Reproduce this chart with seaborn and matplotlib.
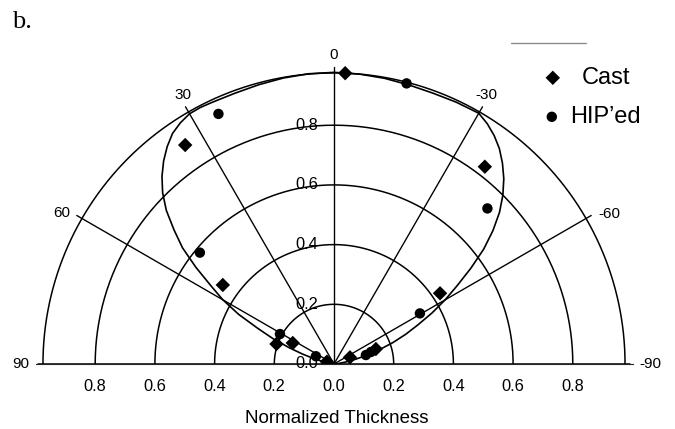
import numpy as np
import matplotlib
matplotlib.use("Agg")
import matplotlib.pyplot as plt
import seaborn as sns
from matplotlib.lines import Line2D

# Measured normalized thickness vs. angle (degrees, 0 = normal, + to the left)
cast_angle = [-2.2, 34.2, 54.6, 63.0, 70.8, 72.0, -67.3, -70.3, -56.3, -37.4]
cast_thick = [0.975, 0.887, 0.457, 0.155, 0.204, 0.025, 0.058, 0.149, 0.427, 0.832]

hip_angle = [-14.5, 24.8, 50.3, 61.0, 66.8, -74.3, -72.0, -59.5, -44.6]
hip_thick = [0.971, 0.923, 0.584, 0.207, 0.066, 0.111, 0.130, 0.334, 0.732]

# Fitted distribution curve
fit_angle = [-90, -85, -80, -77.5, -75, -72.5, -70, -67.5, -65, -62.5, -60,
             -57.5, -55, -52.5, -50, -47.5, -45, -42.5, -40, -37.5, -35,
             -32.5, -30, -25, -20, -15, -10, -5, 0, 5, 10, 15, 20, 25, 27.5,
             30, 32.5, 35, 37.5, 40, 42.5, 45, 47.5, 50, 52.5, 55, 57.5, 60,
             62.5, 65, 67.5, 70, 72.5, 75, 77.5, 80, 85, 90]
fit_thick = [0.0, 0.012, 0.045, 0.075, 0.115, 0.16, 0.21, 0.26, 0.31, 0.37,
             0.43, 0.49, 0.56, 0.632, 0.695, 0.752, 0.80, 0.842, 0.878, 0.91,
             0.935, 0.955, 0.970, 0.968, 0.966, 0.968, 0.972, 0.975, 0.977,
             0.976, 0.973, 0.969, 0.966, 0.967, 0.969, 0.968, 0.958, 0.943,
             0.918, 0.888, 0.853, 0.812, 0.762, 0.70, 0.64, 0.565, 0.49,
             0.43, 0.36, 0.28, 0.22, 0.16, 0.11, 0.07, 0.04, 0.02, 0.005, 0.0]

ring_levels = [0.2, 0.4, 0.6, 0.8]
ring_labels = ["0.2", "0.4", "0.6", "0.8"]
spoke_angles = [-60, -30, 0, 30, 60]
angle_labels = ["90", "60", "30", "0", "-30", "-60", "-90"]
angle_label_theta = [90, 60.9, 29.4, 0, -29.5, -61.4, -90]
angle_label_r = [1.049, 1.043, 1.034, 1.035, 1.034, 1.052, 1.06]

sns.set_style("white")
plt.rcParams["font.family"] = ["Liberation Sans", "DejaVu Sans"]
plt.rcParams["text.color"] = "black"

W, H = 675, 429
cx, cy, R = 334.0, 364.0, 298.5
fig = plt.figure(figsize=(W / 100, H / 100), dpi=100)
# the half-disc wedge sits in a square box: origin at 1/4 of its height
side = 2 * R
ax = fig.add_axes([(cx - R) / W, (H - cy - 0.5 * R) / H, side / W, side / H],
                  projection="polar")
ax.set_theta_zero_location("N")
ax.set_thetamin(-90)
ax.set_thetamax(90)
ax.set_ylim(0, 1)
ax.grid(False)
ax.set_xticks([])
ax.set_yticks([])
for sp in ax.spines.values():
    sp.set_visible(False)
ax.patch.set_alpha(0)

arc = np.deg2rad(np.linspace(-90, 90, 361))
lw = 1.1
# rings
for r in ring_levels + [0.975]:
    ax.plot(arc, np.full_like(arc, r), color="black", lw=lw)
# spokes and baseline
for a in spoke_angles:
    ax.plot([np.deg2rad(a)] * 2, [0, 0.995], color="black", lw=lw * 0.9)
for a in (-90, 90):
    ax.plot([np.deg2rad(a)] * 2, [0, 0.99], color="black", lw=lw)

# fitted curve
ax.plot(np.deg2rad(fit_angle), fit_thick, color="black", lw=1.2)

# data points
sns.scatterplot(x=np.deg2rad(cast_angle), y=cast_thick, marker="D", s=54,
                color="black", edgecolor="none", ax=ax, zorder=5,
                label="Cast", legend=False)
sns.scatterplot(x=np.deg2rad(hip_angle), y=hip_thick, marker="o", s=56,
                color="black", edgecolor="none", ax=ax, zorder=5,
                label="HIP\u2019ed", legend=False)

tick_fs = 11.8
# radial labels along the normal axis
for r, t in zip([0.0] + ring_levels, ["0.0"] + ring_labels):
    ax.annotate(t, xy=(0, r), xytext=(-11.5, 0), textcoords="offset points",
                ha="right", va="center", fontsize=tick_fs)
# radial labels under the baseline
for s_ in (-90, 90):
    for r, t in zip(ring_levels, ring_labels):
        ax.annotate(t, xy=(np.deg2rad(s_), r), xytext=(0, -16.5),
                    textcoords="offset points", ha="center", va="center",
                    fontsize=tick_fs)
ax.annotate("0.0", xy=(0, 0), xytext=(0, -16.5), textcoords="offset points",
            ha="center", va="center", fontsize=tick_fs)

# angle labels
for a, rr, t in zip(angle_label_theta, angle_label_r, angle_labels):
    ax.text(np.deg2rad(a), rr, t, ha="center", va="center", fontsize=11)

fig.text(336.5 / W, (H - 423.3) / H, "Normalized Thickness", ha="center",
         va="baseline", fontsize=13.5)
fig.text(12 / W, (H - 28) / H, "b.", ha="left", va="baseline", fontsize=19,
         family=["Liberation Serif", "DejaVu Serif"])

fig.add_artist(Line2D([511 / W, 586 / W], [(H - 43) / H] * 2, color="#8c8c8c",
                      lw=1))

handles, labels = ax.get_legend_handles_labels()
leg_cast = ax.legend([handles[0]], [labels[0]], loc="center left",
                     bbox_to_anchor=(541 / W, (H - 78) / H),
                     bbox_transform=fig.transFigure, frameon=False,
                     fontsize=17, handlelength=1.0, handletextpad=0.72,
                     borderpad=0, borderaxespad=0)
ax.add_artist(leg_cast)
ax.legend([handles[1]], [labels[1]], loc="center left",
          bbox_to_anchor=(540 / W, (H - 117) / H),
          bbox_transform=fig.transFigure, frameon=False,
          fontsize=17, handlelength=1.0, handletextpad=0.27,
          borderpad=0, borderaxespad=0)

fig.savefig("out.png", dpi=100)
